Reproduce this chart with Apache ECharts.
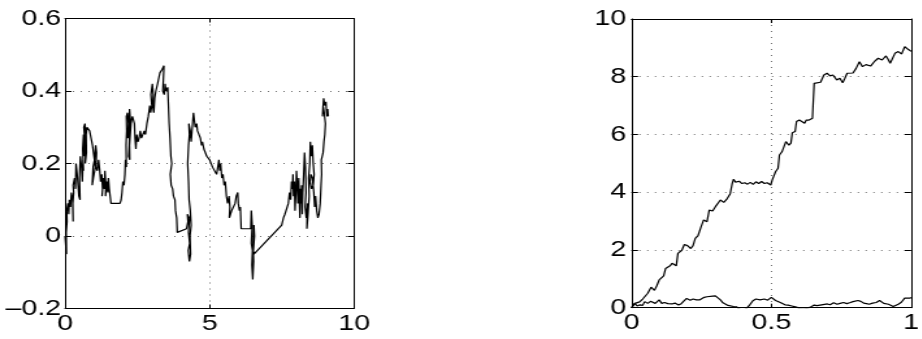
<!DOCTYPE html>
<html>
<head>
<meta charset="utf-8">
<script src="https://cdn.jsdelivr.net/npm/echarts@6/dist/echarts.min.js"></script>
<style>
  html, body { margin: 0; padding: 0; background: #fff; }
  #wrap { width: 922px; height: 339px; overflow: hidden; }
  /* the source figure is stretched sideways, so the chart is drawn narrow and widened */
  #chart { width: 710px; height: 339px; transform: scaleX(1.3); transform-origin: 0 0; }
</style>
</head>
<body>
<div id="wrap"><div id="chart"></div></div>
<script>
const SX = 1.3;

// left panel: 2-D random walk, x(t) and y(t)
const walkX = [
  0.00, 0.03, 0.05, 0.04, 0.07, 0.06, 0.10, 0.13, 0.15, 0.19, 0.22, 0.26, 0.28, 0.27, 0.30, 0.28, 0.33, 0.36, 0.38, 0.42,
  0.45, 0.48, 0.52, 0.50, 0.53, 0.57, 0.60, 0.62, 0.64, 0.61, 0.64, 0.66, 0.68, 0.65, 0.69, 0.72, 0.70, 0.74, 0.73, 0.76,
  0.80, 0.85, 0.90, 0.95, 1.00, 1.05, 0.98, 0.94, 0.97, 1.02, 1.06, 1.09, 1.07, 1.12, 1.16, 1.20, 1.23, 1.27, 1.30, 1.28,
  1.33, 1.36, 1.38, 1.41, 1.40, 1.45, 1.48, 1.50, 1.53, 1.56, 1.59, 1.90, 1.94, 1.97, 2.00, 2.04, 2.07, 2.09, 2.12, 2.11,
  2.13, 2.12, 2.16, 2.19, 2.17, 2.21, 2.23, 2.26, 2.24, 2.22, 2.20, 2.24, 2.23, 2.28, 2.33, 2.40, 2.42, 2.45, 2.48, 2.52,
  2.56, 2.60, 2.64, 2.70, 2.74, 2.78, 2.83, 2.88, 2.93, 2.96, 3.00, 2.97, 3.02, 3.05, 3.03, 3.07, 3.10, 3.14, 3.20, 3.28,
  3.36, 3.42, 3.40, 3.38, 3.43, 3.46, 3.49, 3.55, 3.57, 3.60, 3.63, 3.66, 3.69, 3.64, 3.67, 3.72, 3.75, 3.80, 3.82, 3.86,
  3.88, 4.20, 4.25, 4.23, 4.30, 4.27, 4.31, 4.26, 4.30, 4.34, 4.32, 4.36, 4.33, 4.29, 4.27, 4.24, 4.27, 4.30, 4.28, 4.33,
  4.36, 4.40, 4.44, 4.47, 4.50, 4.55, 4.58, 4.63, 4.68, 4.72, 4.75, 4.80, 4.90, 5.00, 5.10, 5.24, 5.28, 5.32, 5.35, 5.38,
  5.42, 5.46, 5.50, 5.54, 5.58, 5.62, 5.67, 5.70, 5.68, 5.76, 5.82, 5.88, 5.92, 5.97, 5.99, 6.03, 6.06, 6.08, 6.09, 6.42,
  6.44, 6.47, 6.44, 6.48, 6.46, 6.49, 6.52, 6.50, 6.53, 6.55, 6.51, 6.53, 7.49, 7.55, 7.60, 7.72, 7.76, 7.80, 7.83, 7.86,
  7.88, 7.90, 7.93, 7.95, 7.98, 8.00, 8.03, 8.05, 8.08, 8.10, 8.12, 8.14, 8.16, 8.18, 8.20, 8.22, 8.25, 8.28, 8.31, 8.33,
  8.30, 8.34, 8.38, 8.36, 8.40, 8.44, 8.42, 8.46, 8.48, 8.51, 8.55, 8.58, 8.61, 8.58, 8.52, 8.47, 8.50, 8.55, 8.60, 8.63,
  8.66, 8.70, 8.74, 8.78, 8.82, 8.85, 8.87, 8.86, 8.92, 8.95, 8.98, 9.00, 8.96, 8.92, 8.90, 8.94, 8.98, 9.02, 9.04, 9.06,
  9.08, 9.10
];
const walkY = [
  0.00, -0.03, -0.05, 0.01, 0.04, 0.07, 0.09, 0.06, 0.10, 0.08, 0.12, 0.10, 0.04, 0.09, 0.12, 0.14, 0.16, 0.13, 0.20, 0.17,
  0.14, 0.11, 0.10, 0.16, 0.22, 0.19, 0.15, 0.21, 0.18, 0.24, 0.28, 0.22, 0.27, 0.30, 0.31, 0.27, 0.20, 0.23, 0.28, 0.30,
  0.30, 0.29, 0.27, 0.25, 0.22, 0.19, 0.16, 0.14, 0.19, 0.21, 0.25, 0.23, 0.19, 0.18, 0.21, 0.18, 0.15, 0.17, 0.13, 0.11,
  0.16, 0.13, 0.18, 0.14, 0.11, 0.15, 0.12, 0.16, 0.13, 0.11, 0.09, 0.09, 0.10, 0.12, 0.15, 0.14, 0.17, 0.21, 0.19, 0.25,
  0.29, 0.33, 0.34, 0.31, 0.27, 0.29, 0.35, 0.32, 0.29, 0.25, 0.22, 0.21, 0.25, 0.31, 0.33, 0.31, 0.27, 0.24, 0.28, 0.26,
  0.27, 0.29, 0.27, 0.27, 0.29, 0.28, 0.31, 0.33, 0.36, 0.34, 0.36, 0.39, 0.42, 0.39, 0.36, 0.34, 0.38, 0.40, 0.42, 0.45,
  0.46, 0.47, 0.43, 0.40, 0.39, 0.42, 0.40, 0.41, 0.37, 0.31, 0.27, 0.22, 0.20, 0.17, 0.14, 0.13, 0.11, 0.10, 0.07, 0.05,
  0.01, 0.02, 0.04, 0.06, 0.05, 0.01, -0.02, -0.04, -0.07, -0.05, 0.00, 0.03, 0.07, 0.10, 0.15, 0.20, 0.25, 0.28, 0.31, 0.29,
  0.26, 0.30, 0.34, 0.32, 0.30, 0.31, 0.29, 0.29, 0.27, 0.25, 0.26, 0.24, 0.22, 0.21, 0.19, 0.17, 0.19, 0.21, 0.18, 0.20,
  0.16, 0.17, 0.14, 0.15, 0.11, 0.09, 0.11, 0.08, 0.05, 0.07, 0.08, 0.09, 0.11, 0.12, 0.09, 0.07, 0.08, 0.04, 0.02, 0.02,
  0.07, 0.03, -0.02, -0.04, -0.08, -0.12, -0.07, -0.02, 0.03, 0.00, -0.04, -0.05, 0.03, 0.05, 0.06, 0.09, 0.12, 0.10, 0.15, 0.13,
  0.17, 0.11, 0.15, 0.07, 0.12, 0.18, 0.14, 0.09, 0.16, 0.10, 0.05, 0.13, 0.09, 0.14, 0.06, 0.12, 0.17, 0.23, 0.19, 0.12,
  0.08, 0.05, 0.09, 0.02, 0.06, 0.11, 0.16, 0.20, 0.26, 0.22, 0.25, 0.20, 0.17, 0.14, 0.13, 0.15, 0.17, 0.16, 0.12, 0.08,
  0.11, 0.07, 0.05, 0.06, 0.09, 0.14, 0.17, 0.21, 0.23, 0.26, 0.28, 0.31, 0.34, 0.36, 0.33, 0.38, 0.36, 0.37, 0.34, 0.33,
  0.35, 0.33
];

// right panel: two curves over t in [0, 1]
const upperT = [
  0, 0.012, 0.029, 0.04, 0.047, 0.058, 0.07, 0.078, 0.082, 0.09, 0.099, 0.108, 0.115, 0.122, 0.13, 0.138, 0.145, 0.152, 0.16, 0.166,
  0.18, 0.189, 0.2, 0.212, 0.22, 0.228, 0.238, 0.249, 0.258, 0.27, 0.278, 0.29, 0.3, 0.307, 0.318, 0.33, 0.34, 0.353, 0.36, 0.365,
  0.372, 0.385, 0.395, 0.405, 0.415, 0.425, 0.435, 0.445, 0.455, 0.465, 0.475, 0.485, 0.498, 0.503, 0.515, 0.524, 0.529, 0.538, 0.545, 0.552,
  0.563, 0.57, 0.575, 0.585, 0.59, 0.6, 0.607, 0.619, 0.625, 0.635, 0.647, 0.653, 0.662, 0.676, 0.688, 0.699, 0.71, 0.72, 0.734, 0.745,
  0.755, 0.763, 0.771, 0.78, 0.792, 0.803, 0.815, 0.826, 0.838, 0.855, 0.868, 0.882, 0.896, 0.91, 0.918, 0.925, 0.933, 0.942, 0.954, 0.966,
  0.977, 0.989, 1.0
];
const upperY = [
  0, 0.15, 0.2, 0.3, 0.35, 0.5, 0.71, 0.65, 0.6, 0.75, 0.96, 0.9, 1.1, 1.36, 1.3, 1.45, 1.54, 1.5, 1.45, 1.88,
  1.99, 2.19, 2.15, 2.05, 2.15, 2.4, 2.5, 2.81, 3.04, 2.98, 3.38, 3.35, 3.5, 3.56, 3.73, 3.65, 3.75, 3.95, 4.3, 4.45,
  4.35, 4.38, 4.3, 4.33, 4.28, 4.34, 4.27, 4.36, 4.3, 4.37, 4.3, 4.33, 4.25, 4.42, 4.71, 4.83, 5.29, 5.4, 5.45, 5.75,
  5.63, 5.7, 6.06, 6.1, 6.45, 6.5, 6.5, 6.39, 6.5, 6.5, 6.56, 7.77, 7.82, 7.81, 8.06, 8.12, 8.03, 8.06, 7.89, 7.95,
  7.79, 7.95, 8.12, 8.12, 8.13, 8.29, 8.52, 8.35, 8.42, 8.37, 8.52, 8.64, 8.58, 8.72, 8.6, 8.47, 8.41, 8.81, 8.87, 8.79,
  9.04, 8.95, 8.88
];
const lowerT = [
  0, 0.012, 0.02, 0.03, 0.04, 0.047, 0.058, 0.068, 0.076, 0.085, 0.092, 0.099, 0.108, 0.118, 0.13, 0.145, 0.155, 0.168, 0.178, 0.185,
  0.197, 0.21, 0.22, 0.232, 0.243, 0.252, 0.26, 0.27, 0.278, 0.29, 0.3, 0.307, 0.318, 0.327, 0.336, 0.345, 0.353, 0.365, 0.376, 0.385,
  0.4, 0.41, 0.422, 0.434, 0.445, 0.46, 0.475, 0.487, 0.5, 0.505, 0.515, 0.532, 0.549, 0.56, 0.573, 0.59, 0.6, 0.615, 0.63, 0.64,
  0.653, 0.663, 0.671, 0.68, 0.688, 0.7, 0.71, 0.723, 0.735, 0.746, 0.758, 0.77, 0.78, 0.792, 0.8, 0.81, 0.82, 0.83, 0.84, 0.85,
  0.862, 0.875, 0.887, 0.895, 0.902, 0.91, 0.919, 0.928, 0.936, 0.945, 0.954, 0.965, 0.977, 0.986, 0.994, 1.0
];
const lowerY = [
  0, 0.15, 0.06, 0.1, 0.08, 0.21, 0.15, 0.22, 0.27, 0.15, 0.2, 0.27, 0.15, 0.18, 0.14, 0.13, 0.16, 0.09, 0.14, 0.21,
  0.32, 0.26, 0.3, 0.27, 0.27, 0.33, 0.36, 0.38, 0.44, 0.4, 0.41, 0.38, 0.27, 0.17, 0.13, 0.08, 0.06, 0.04, 0.03, -0.05,
  -0.08, -0.04, 0.09, 0.24, 0.3, 0.27, 0.3, 0.26, 0.36, 0.32, 0.25, 0.18, 0.1, 0.09, 0.06, 0.02, -0.03, -0.05, -0.02, 0.02,
  0.09, 0.07, 0.13, 0.1, 0.07, 0.13, 0.1, 0.17, 0.12, 0.15, 0.18, 0.14, 0.17, 0.21, 0.2, 0.25, 0.22, 0.16, 0.14, 0.12,
  0.16, 0.18, 0.25, 0.2, 0.15, 0.16, 0.12, 0.08, 0.04, 0.08, 0.12, 0.19, 0.33, 0.36, 0.33, 0.35
];

const leftTicksX = [0, 10, 5];   // min, max, interval
const leftTicksY = [-0.2, 0.6, 0.2];
const rightTicksX = [0, 1, 0.5];
const rightTicksY = [0, 10, 2];

const zip = (xs, ys) => xs.map((x, i) => [x, ys[i]]);

const font = { fontFamily: 'Liberation Sans', fontSize: 22, color: '#000' };
const fmt = v => (v < 0 ? '\u2013' + String(-v) : String(v));

function box(l, t, r, b) {
  return { left: l / SX, top: t, width: (r - l) / SX, height: b - t, containLabel: false };
}

function xAxes(gi, ticks) {
  const base = {
    type: 'value', gridIndex: gi, min: ticks[0], max: ticks[1], interval: ticks[2],
    axisLine: { onZero: false, lineStyle: { color: '#000', width: 1 } },
    axisTick: { inside: true, length: 4, lineStyle: { color: '#000' } }
  };
  return [
    Object.assign({}, base, {
      position: 'bottom',
      axisLabel: Object.assign({ margin: 4, formatter: fmt }, font),
      splitLine: { show: true, lineStyle: { color: '#707070', type: [1, 5], width: 1 } }
    }),
    Object.assign({}, base, { position: 'top', axisLabel: { show: false }, splitLine: { show: false } })
  ];
}

function yAxes(gi, ticks, margin) {
  const base = {
    type: 'value', gridIndex: gi, min: ticks[0], max: ticks[1], interval: ticks[2],
    axisLine: { onZero: false, lineStyle: { color: '#000', width: 1 } },
    axisTick: { inside: true, length: 5, lineStyle: { color: '#000' } }
  };
  return [
    Object.assign({}, base, {
      position: 'left',
      axisLabel: Object.assign({ margin: margin, formatter: fmt }, font),
      splitLine: { show: true, lineStyle: { color: '#707070', type: [1, 5], width: 1 } }
    }),
    Object.assign({}, base, { position: 'right', axisLabel: { show: false }, splitLine: { show: false } })
  ];
}

const lineStyle = { color: '#000', width: 1.2 };

const option = {
  backgroundColor: '#fff',
  animation: false,
  grid: [box(65, 18.5, 354.3, 308.5), box(631.5, 19, 920, 307.7)],
  xAxis: xAxes(0, leftTicksX).concat(xAxes(1, rightTicksX)),
  yAxis: yAxes(0, leftTicksY, 3).concat(yAxes(1, rightTicksY, 4)),
  series: [
    { type: 'line', xAxisIndex: 0, yAxisIndex: 0, data: zip(walkX, walkY), showSymbol: false, symbol: 'none', lineStyle: lineStyle },
    { type: 'line', xAxisIndex: 2, yAxisIndex: 2, data: zip(upperT, upperY), showSymbol: false, symbol: 'none', lineStyle: lineStyle },
    { type: 'line', xAxisIndex: 2, yAxisIndex: 2, data: zip(lowerT, lowerY), showSymbol: false, symbol: 'none', lineStyle: lineStyle }
  ]
};

const chart = echarts.init(document.getElementById('chart'), null, { renderer: 'canvas' });
chart.setOption(option);
</script>
</body>
</html>
